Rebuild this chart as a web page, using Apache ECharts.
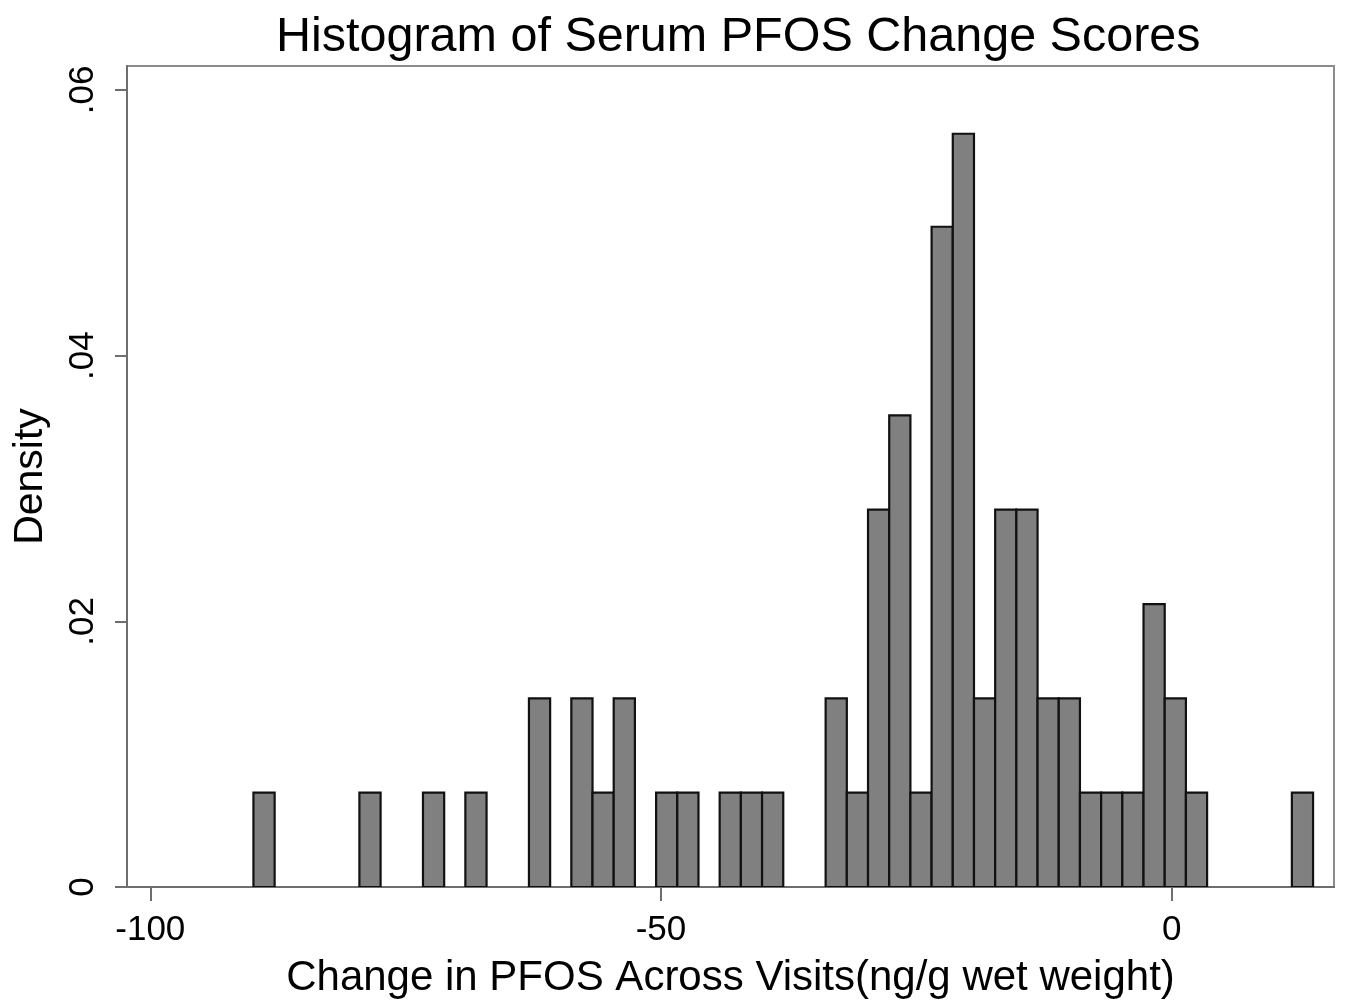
<!DOCTYPE html>
<html>
<head>
<meta charset="utf-8">
<title>Histogram of Serum PFOS Change Scores</title>
<script src="https://cdn.jsdelivr.net/npm/echarts@6/dist/echarts.min.js"></script>
<style>
  html, body { margin: 0; padding: 0; background: #fff; }
  #main { width: 1345px; height: 1007px; }
</style>
</head>
<body>
<div id="main"></div>
<script>
// bins: first bin edge and width (ng/g wet weight)
const binStart = -89.9
const binWidth = 2.075
// density of each bin, left to right (0 = empty bin)
const densities = [
  0.0071, 0, 0, 0, 0, 0.0071, 0, 0, 0.0071, 0,
  0.0071, 0, 0, 0.0142, 0, 0.0142, 0.0071, 0.0142, 0, 0.0071,
  0.0071, 0, 0.0071, 0.0071, 0.0071, 0, 0, 0.0142, 0.0071, 0.0284,
  0.0355, 0.0071, 0.0497, 0.0567, 0.0142, 0.0284, 0.0284, 0.0142, 0.0142, 0.0071,
  0.0071, 0.0071, 0.0213, 0.0142, 0.0071, 0, 0, 0, 0, 0.0071
]
const xTicks = [-100, -50, 0]
const yTicks = [0, 0.02, 0.04, 0.06]

const font = 'Liberation Sans, Arial, Helvetica, sans-serif'

const bars = []
densities.forEach((d, i) => {
  if (d > 0) bars.push([binStart + i * binWidth, binStart + (i + 1) * binWidth, d])
})

var myChart = echarts.init(document.getElementById('main'))
myChart.setOption({
  animation: false,
  backgroundColor: '#fff',
  title: {
    text: 'Histogram of Serum PFOS Change Scores',
    left: 271,
    top: 8,
    textStyle: { fontFamily: font, fontSize: 48.5, fontWeight: 'normal', color: '#000' }
  },
  grid: {
    left: 127,
    right: 11,
    top: 66,
    bottom: 120,
    show: true,
    borderColor: '#8c8c8c',
    borderWidth: 2
  },
  xAxis: {
    type: 'value',
    min: -102.28,
    max: 15.9,
    name: 'Change in PFOS Across Visits(ng/g wet weight)',
    nameLocation: 'middle',
    nameGap: 70,
    nameTextStyle: { fontFamily: font, fontSize: 42, color: '#000' },
    splitLine: { show: false },
    axisLine: { onZero: false, lineStyle: { color: '#6e6e6e', width: 2 } },
    axisTick: {
      customValues: xTicks,
      length: 14,
      lineStyle: { color: '#6e6e6e', width: 2 }
    },
    axisLabel: {
      customValues: xTicks,
      margin: 26,
      fontFamily: font,
      fontSize: 35,
      color: '#000'
    }
  },
  yAxis: {
    type: 'value',
    min: 0,
    max: 0.0618,
    name: 'Density',
    nameLocation: 'middle',
    nameGap: 76,
    nameRotate: 90,
    nameTextStyle: { fontFamily: font, fontSize: 41, color: '#000' },
    splitLine: { show: false },
    axisLine: { show: true, onZero: false, lineStyle: { color: '#6e6e6e', width: 2 } },
    axisTick: {
      show: true,
      customValues: yTicks,
      length: 12,
      lineStyle: { color: '#6e6e6e', width: 2 }
    },
    axisLabel: {
      customValues: yTicks,
      rotate: 90,
      margin: 26,
      fontFamily: font,
      fontSize: 35,
      color: '#000',
      formatter: v => (v === 0 ? '0' : String(v).replace(/^0/, ''))
    }
  },
  series: [
    {
      type: 'custom',
      clip: true,
      encode: { x: [0, 1], y: 2 },
      data: bars,
      renderItem(params, api) {
        const topLeft = api.coord([api.value(0), api.value(2)])
        const bottomRight = api.coord([api.value(1), 0])
        return {
          type: 'rect',
          shape: {
            x: topLeft[0],
            y: topLeft[1],
            width: bottomRight[0] - topLeft[0],
            height: bottomRight[1] - topLeft[1]
          },
          style: { fill: '#808080', stroke: '#111', lineWidth: 2.2 }
        }
      }
    }
  ]
})
</script>
</body>
</html>
